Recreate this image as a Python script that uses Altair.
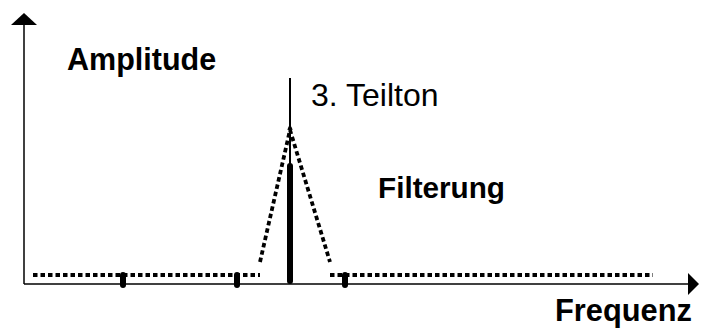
import altair as alt
import pandas as pd

W, H = 691, 320

# ---- data (frequency / amplitude in plot units) ----
# neighbouring partials, marked as short strokes on the frequency axis
partial_freq = [115, 229, 337]
partial_lo = [51, 51, 51]
partial_hi = [61, 61, 61]

# the 3rd partial ("3. Teilton")
teil_freq = [282]
teil_lo = [55]
teil_hi = [170]
teil_label_top = [258]
teil_filter_peak = [209]

# filter curve (dotted)
filter_seg = ["left", "left", "peak", "peak", "peak", "right", "right"]
filter_freq = [25, 252, 252, 282, 322, 322, 645]
filter_amp = [61, 61, 74, 206, 74, 61, 61]

# axes
axis_origin_x, axis_origin_y = 16, 52
axis_end_x, axis_end_y = 680, 311

# labels
lab_bold_text = ["Amplitude", "Filterung", "Frequenz"]
lab_bold_x = [59, 370, 547]
lab_bold_y = [266, 138, 15]
lab_bold_size = [30.5, 29.7, 30.8]
lab_norm_text = ["3. Teilton"]
lab_norm_x = [303]
lab_norm_y = [230]
lab_norm_size = [32]

X = alt.Scale(domain=[0, W], nice=False, zero=False)
Y = alt.Scale(domain=[8, 8 + H], nice=False, zero=False)

filt = pd.DataFrame({"seg": filter_seg, "f": filter_freq, "a": filter_amp,
                     "o": list(range(len(filter_seg)))})
parts = pd.DataFrame({"f": partial_freq, "lo": partial_lo, "hi": partial_hi})
teil = pd.DataFrame({"f": teil_freq, "lo": teil_lo, "hi": teil_hi,
                     "top": teil_label_top, "pk": teil_filter_peak})
axes_df = pd.DataFrame({"x": [axis_origin_x], "y": [axis_origin_y],
                        "x2": [axis_end_x], "y2": [axis_end_y]})
bold = pd.DataFrame({"t": lab_bold_text, "x": lab_bold_x, "y": lab_bold_y, "s": lab_bold_size})
norm = pd.DataFrame({"t": lab_norm_text, "x": lab_norm_x, "y": lab_norm_y, "s": lab_norm_size})

base_axes = alt.Chart(axes_df)
x_axis = base_axes.mark_rule(color="black", strokeWidth=1.5).encode(
    x=alt.X("x:Q", scale=X, axis=None), x2="x2:Q", y=alt.Y("y:Q", scale=Y, axis=None))
y_axis = base_axes.mark_rule(color="black", strokeWidth=1.5).encode(
    x=alt.X("x:Q", scale=X, axis=None), y=alt.Y("y:Q", scale=Y, axis=None), y2="y2:Q")
up_arrow = base_axes.mark_point(shape="M-1,0L1,0L0,-0.92Z", filled=True, size=676,
                                color="black", opacity=1, strokeWidth=0).encode(
    x=alt.X("x:Q", scale=X, axis=None), y=alt.Y("y2:Q", scale=Y, axis=None))
right_arrow = base_axes.mark_point(shape="M0,-1L1,0L0,1Z", filled=True, size=484,
                                   color="black", opacity=1, strokeWidth=0).encode(
    x=alt.X("x2:Q", scale=X, axis=None), y=alt.Y("y:Q", scale=Y, axis=None))

filter_line = alt.Chart(filt).mark_line(color="black", strokeWidth=3.8,
                                        strokeDash=[4.5, 3]).encode(
    x=alt.X("f:Q", scale=X, axis=None), y=alt.Y("a:Q", scale=Y, axis=None),
    detail="seg:N", order="o:Q")

partial_marks = alt.Chart(parts).mark_rule(color="black", strokeWidth=6,
                                           strokeCap="round").encode(
    x=alt.X("f:Q", scale=X, axis=None), y=alt.Y("lo:Q", scale=Y, axis=None), y2="hi:Q")

teil_thin = alt.Chart(teil).mark_rule(color="black", strokeWidth=2).encode(
    x=alt.X("f:Q", scale=X, axis=None), y=alt.Y("hi:Q", scale=Y, axis=None), y2="top:Q")
teil_bar = alt.Chart(teil).mark_rule(color="black", strokeWidth=6,
                                     strokeCap="round").encode(
    x=alt.X("f:Q", scale=X, axis=None), y=alt.Y("lo:Q", scale=Y, axis=None), y2="hi:Q")
peak_tip = alt.Chart(teil).mark_point(shape="M-1,1L1,1L0,-1Z", filled=True, size=30,
                                      color="black", opacity=1, strokeWidth=0).encode(
    x=alt.X("f:Q", scale=X, axis=None), y=alt.Y("pk:Q", scale=Y, axis=None))

bold_text = alt.Chart(bold).mark_text(font="Liberation Sans", fontWeight="bold",
                                      align="left", baseline="alphabetic",
                                      color="black").encode(
    x=alt.X("x:Q", scale=X, axis=None), y=alt.Y("y:Q", scale=Y, axis=None),
    text="t:N", size=alt.Size("s:Q", scale=None, legend=None))
norm_text = alt.Chart(norm).mark_text(font="Liberation Sans", fontWeight="normal",
                                      align="left", baseline="alphabetic",
                                      color="black").encode(
    x=alt.X("x:Q", scale=X, axis=None), y=alt.Y("y:Q", scale=Y, axis=None),
    text="t:N", size=alt.Size("s:Q", scale=None, legend=None))

chart = alt.layer(
    x_axis, y_axis, up_arrow, right_arrow, filter_line, partial_marks,
    teil_thin, teil_bar, peak_tip, bold_text, norm_text
).properties(
    width=W, height=H, padding=0,
    autosize=alt.AutoSizeParams(type="none"), background="white"
).configure_view(stroke=None)

chart.save("out.html", embed_options={"renderer": "svg", "actions": False})
